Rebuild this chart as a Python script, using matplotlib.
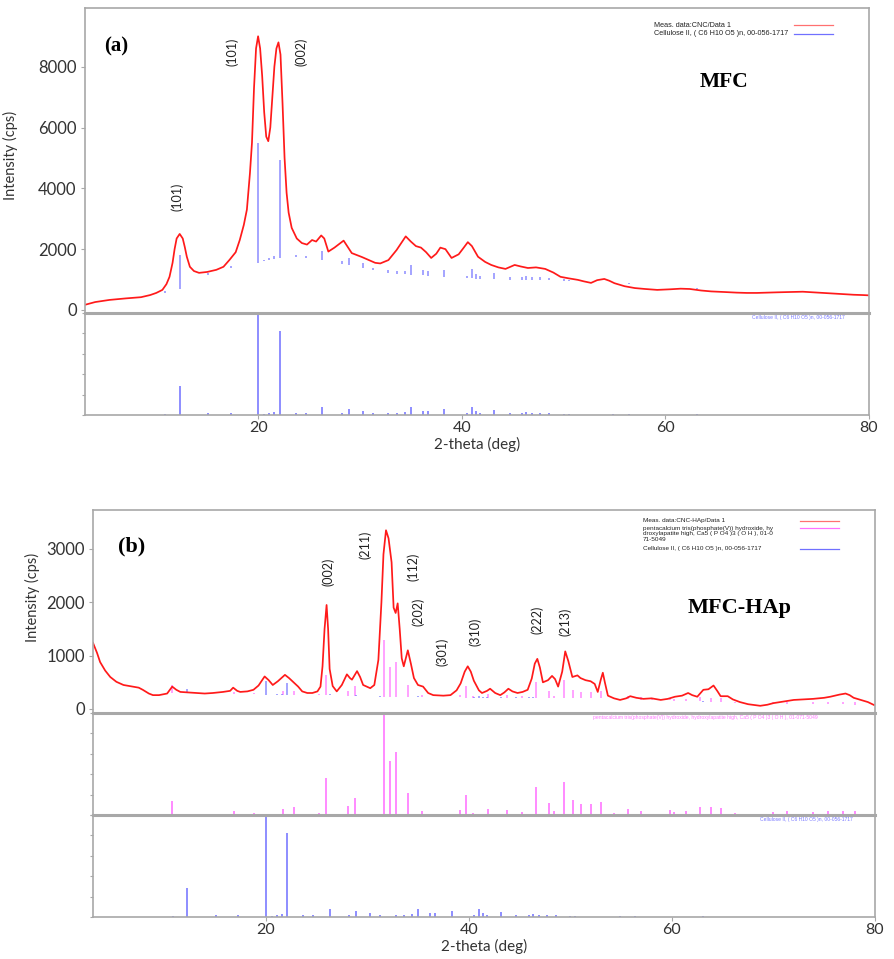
import numpy as np
import matplotlib

matplotlib.use("Agg")
import matplotlib.pyplot as plt

plt.rcParams["font.family"] = ["Lato", "DejaVu Sans"]

# ---- (a) MFC: measured pattern ----
a_x = [3.0, 4.0, 5.4, 7.0, 8.5, 9.4, 10.0, 10.6, 11.0, 11.3, 11.6, 11.8, 12.0, 12.3, 12.6,
       12.8, 13.0, 13.3, 13.7, 14.2, 15.0, 15.9, 16.6, 17.2, 17.8, 18.2, 18.6, 18.9, 19.2,
       19.4, 19.6, 19.8, 20.0, 20.2, 20.4, 20.6, 20.8, 21.0, 21.2, 21.4, 21.6, 21.8, 22.0,
       22.2, 22.4, 22.6, 22.8, 23.0, 23.3, 23.8, 24.3, 24.8, 25.3, 25.7, 26.2, 26.5, 26.9,
       27.5, 28.4, 29.2, 30.2, 31.5, 32.0, 32.8, 33.6, 34.5, 35.0, 35.5, 36.0, 36.5, 37.0,
       37.5, 37.9, 38.4, 39.0, 39.7, 40.2, 40.6, 41.0, 41.6, 42.3, 42.9, 43.6, 44.3, 45.2,
       45.8, 46.5, 47.3, 48.2, 49.0, 49.7, 50.5, 51.4, 52.0, 52.7, 53.3, 54.0, 54.5, 55.0,
       56.0, 57.0, 58.0, 59.2, 60.5, 61.5, 62.4, 63.5, 64.5, 65.8, 67.0, 68.0, 69.0, 70.0,
       71.0, 72.2, 73.5, 74.5, 75.5, 76.5, 77.5, 78.5, 79.4, 80.0]
a_y = [170, 260, 330, 380, 420, 490, 560, 660, 850, 1090, 1550, 2000, 2350, 2500, 2350,
       2070, 1750, 1420, 1280, 1220, 1250, 1320, 1420, 1650, 1900, 2300, 2800, 3300, 4500,
       5500, 7300, 8600, 9000, 8600, 7700, 6500, 5700, 5550, 6000, 7000, 8000, 8600, 8800,
       8400, 6800, 5000, 3850, 3200, 2700, 2350, 2200, 2150, 2300, 2250, 2450, 2350, 1920,
       2050, 2280, 1870, 1740, 1550, 1530, 1640, 1970, 2420, 2250, 2100, 2050, 1900, 1710,
       1850, 2050, 2000, 1710, 1830, 2050, 2230, 2100, 1750, 1580, 1480, 1400, 1350, 1480,
       1430, 1380, 1400, 1350, 1230, 1090, 1040, 990, 940, 890, 980, 1020, 960, 880,
       780, 720, 690, 660, 680, 700, 690, 640, 610, 590, 570, 560, 560, 570,
       580, 590, 600, 580, 560, 540, 520, 500, 490, 480]

# background level under the reference sticks in (a)
bg_a_x = [3, 10, 12.2, 14.7, 17, 20, 22.2, 23.5, 26.2, 27.7, 30, 32, 34, 36, 38, 40,
          42.6, 45.5, 48.2, 50.5, 55, 63, 80]
bg_a_y = [200, 500, 680, 1090, 1350, 1550, 1710, 1750, 1640, 1550, 1410, 1250, 1180,
          1150, 1090, 1050, 1020, 990, 990, 960, 880, 680, 480]

# ---- Cellulose II reference, 00-056-1717 (relative intensity) ----
cell_pos = [10.9, 12.3, 15.1, 17.3, 20.0, 20.6, 21.1, 21.6, 22.15, 23.7, 24.7, 26.3, 28.2,
            28.9, 30.3, 31.3, 32.8, 33.6, 34.4, 35.0, 36.2, 36.7, 38.3, 40.5, 41.0, 41.4,
            41.8, 43.2, 44.7, 45.9, 46.3, 46.9, 47.7, 48.6, 50.0, 50.5, 54.9, 56.4, 63.1]
cell_int = [0.01, 0.28, 0.02, 0.02, 1.0, 0.01, 0.02, 0.03, 0.82, 0.02, 0.02, 0.08, 0.02,
            0.06, 0.04, 0.02, 0.02, 0.02, 0.03, 0.08, 0.04, 0.04, 0.06, 0.02, 0.08, 0.04,
            0.02, 0.05, 0.02, 0.02, 0.03, 0.02, 0.02, 0.02, 0.01, 0.01, 0.01, 0.01, 0.01]

# ---- (b) MFC-HAp: measured pattern ----
b_x = [3.0, 3.4, 3.7, 4.2, 4.7, 5.3, 6.0, 6.9, 7.5, 7.9, 8.5, 8.9, 9.5, 10.3, 10.8, 11.2,
       11.6, 12.4, 13.2, 14.0, 14.8, 15.8, 16.5, 16.8, 17.2, 17.5, 18.2, 18.8, 19.3, 19.9,
       20.3, 20.7, 21.2, 21.9, 22.3, 22.7, 23.2, 23.6, 24.1, 24.6, 25.1, 25.4, 25.6, 25.8,
       26.0, 26.15, 26.3, 26.6, 27.0, 27.5, 28.0, 28.3, 28.5, 29.0, 29.3, 29.6, 30.3, 30.7,
       31.1, 31.4, 31.6, 31.85, 32.1, 32.4, 32.6, 32.8, 33.0, 33.2, 33.4, 33.6, 34.0, 34.3,
       34.6, 35.0, 35.5, 36.0, 36.5, 37.5, 38.2, 38.8, 39.2, 39.6, 39.9, 40.2, 40.5, 41.0,
       41.3, 41.8, 42.1, 42.6, 43.1, 43.5, 43.9, 44.3, 44.8, 45.3, 45.8, 46.2, 46.5, 46.75,
       47.0, 47.3, 47.8, 48.2, 48.5, 48.8, 49.2, 49.5, 49.8, 50.2, 50.7, 51.0, 51.5, 52.0,
       52.4, 52.7, 53.0, 53.2, 53.4, 53.7, 54.3, 54.9, 55.5, 55.9, 56.5, 57.2, 58.0, 58.9,
       59.6, 60.3, 61.0, 61.6, 62.0, 62.5, 63.1, 63.6, 64.1, 64.5, 64.8, 65.5, 66.0, 66.7,
       67.5, 68.7, 69.4, 70.0, 71.0, 72.0, 73.0, 73.9, 75.0, 75.6, 76.5, 77.1, 77.5, 77.9,
       78.6, 79.3, 79.9]
b_y = [1240, 1050, 880, 720, 600, 510, 450, 420, 400, 360, 290, 260, 260, 290, 420, 360,
       320, 310, 300, 290, 300, 320, 340, 400, 340, 320, 330, 360, 440, 610,
       540, 450, 520, 640, 580, 510, 420, 330, 300, 300, 330, 420, 800, 1500,
       1950, 1500, 750, 430, 330, 450, 650, 580, 550, 710, 600, 450, 390, 450,
       920, 2000, 2900, 3350, 3200, 2750, 1900, 1800, 1980, 1500, 950, 800, 1100, 850,
       580, 450, 420, 300, 260, 250, 260, 350, 480, 700, 800, 700, 530, 350,
       300, 340, 380, 300, 260, 310, 380, 330, 300, 320, 360, 570, 850, 940,
       780, 500, 540, 620, 560, 420, 700, 1080, 900, 600, 630, 580, 540, 520,
       470, 320, 550, 680, 500, 250, 200, 170, 200, 240, 210, 190, 200, 170,
       190, 230, 250, 300, 260, 230, 360, 370, 440, 330, 240, 240, 180, 130,
       90, 60, 80, 110, 140, 170, 180, 190, 210, 230, 270, 290, 260, 210,
       170, 130, 75]

bg_b_x = [3, 10, 20, 26, 32, 40, 47, 53, 60, 66, 70, 80]
bg_b_y = [330, 300, 270, 260, 225, 215, 210, 200, 160, 120, 100, 80]

# ---- Hydroxylapatite reference, 01-071-5049 (relative intensity) ----
hap_pos = [10.8, 16.9, 18.9, 21.7, 22.8, 25.3, 25.9, 28.1, 28.8, 31.7, 32.2, 32.8, 34.0,
           35.4, 39.1, 39.7, 40.4, 41.9, 43.8, 45.2, 46.6, 47.9, 48.4, 49.4, 50.3, 51.1,
           52.0, 53.0, 54.3, 55.7, 57.0, 58.0, 59.8, 60.2, 61.4, 62.8, 63.9, 64.8, 66.2,
           70.0, 71.3, 73.9, 75.4, 76.8, 78.0]
hap_int = [0.14, 0.04, 0.02, 0.06, 0.075, 0.02, 0.36, 0.09, 0.17, 1.0, 0.53, 0.62, 0.22,
           0.04, 0.05, 0.20, 0.02, 0.06, 0.05, 0.03, 0.27, 0.12, 0.04, 0.32, 0.15, 0.11,
           0.11, 0.13, 0.02, 0.06, 0.04, 0.01, 0.05, 0.03, 0.04, 0.08, 0.075, 0.07, 0.02,
           0.03, 0.04, 0.03, 0.04, 0.04, 0.04]

peaks_a = [(12.1, 3720, "(101)"), (17.5, 8490, "(101)"), (24.2, 8490, "(002)")]
peaks_b = [(26.15, 2570, "(002)"), (29.8, 3080, "(211)"), (34.5, 2660, "(112)"),
           (35.0, 1820, "(202)"), (37.4, 1070, "(301)"), (40.6, 1445, "(310)"),
           (46.7, 1670, "(222)"), (49.5, 1630, "(213)")]

RED = "#ff1a1a"
BLUE = "#7a7aff"
MAG = "#ff77ff"
FRAME = "#a8a8a8"
TXT = "#333333"
W, H = 894, 959


def box(left, top, right, bottom):
    return [left / W, 1 - bottom / H, (right - left) / W, (bottom - top) / H]


def frame(ax, top_lw=1.2):
    for s in ax.spines.values():
        s.set_color(FRAME)
        s.set_linewidth(1.2)
    ax.spines["top"].set_linewidth(top_lw)
    ax.set_xlim(3, 80)


def main_panel(ax, ylim, ticks):
    frame(ax)
    ax.set_ylim(*ylim)
    ax.set_yticks(ticks)
    ax.set_xticks([])
    ax.tick_params(axis="y", length=3, color=FRAME, labelsize=12, labelcolor=TXT, pad=3)
    ax.set_ylabel("Intensity (cps)", fontsize=10.5, color=TXT)


def stick_panel(ax, pos, inten, color, label, lx, last=False):
    frame(ax, top_lw=2.2)
    ax.vlines(pos, 0, inten, color=color, lw=1.2)
    ax.set_ylim(0, 1.0)
    ax.set_yticks(np.linspace(0, 1, 6))
    ax.tick_params(axis="y", length=2, color=FRAME, labelleft=False)
    ax.text(lx, 0.955, label, transform=ax.transAxes, fontsize=3.6, color=color,
            ha="left", va="center", family="Liberation Sans")
    if last:
        ax.set_xticks([20, 40, 60, 80])
        ax.tick_params(axis="x", length=3, color=FRAME, labelsize=11.5, labelcolor=TXT, pad=1)
        ax.set_xlabel("2-theta (deg)", fontsize=11, color=TXT, labelpad=0)
    else:
        ax.set_xticks([])


def legend_rows(ax, x0, rows, lines, size):
    for y, s in rows:
        ax.text(x0, y, s, transform=ax.transAxes, fontsize=size, color="#222222",
                ha="left", va="center", family="Liberation Sans")
    for y, c in lines:
        ax.plot([0.904, 0.954], [y, y], transform=ax.transAxes, color=c, lw=0.9)


fig = plt.figure(figsize=(W / 100, H / 100), dpi=100)

# ---------------- panel (a) ----------------
ax1 = fig.add_axes(box(85, 8, 869, 313))
main_panel(ax1, (-100, 9930), [0, 2000, 4000, 6000, 8000])
ax1.yaxis.set_label_coords(-0.0855, 0.518)
base = np.interp(cell_pos, bg_a_x, bg_a_y)
ax1.vlines(cell_pos, base, base + np.array(cell_int) * 3930, color=BLUE, lw=1.2, alpha=0.8)
ax1.plot(a_x, a_y, color=RED, lw=1.25)
for x, y, s in peaks_a:
    ax1.text(x, y, s, rotation=90, ha="center", va="center", fontsize=9, color="#222222")
ax1.text(6.1, 8650, "(a)", fontsize=15, fontweight="bold", family="Liberation Serif",
         ha="center", va="center")
ax1.text(65.8, 7500, "MFC", fontsize=15.5, fontweight="bold", family="Liberation Serif",
         ha="center", va="center")
legend_rows(ax1, 0.726,
            [(0.944, "Meas. data:CNC/Data 1"),
             (0.915, "Cellulose II, ( C6 H10 O5 )n, 00-056-1717")],
            [(0.944, "#ff7070"), (0.915, "#7070ff")], 5.2)

ax2 = fig.add_axes(box(85, 313, 869, 415))
stick_panel(ax2, cell_pos, cell_int, BLUE, "Cellulose II, ( C6 H10 O5 )n, 00-056-1717",
            0.851, last=True)
ax2.xaxis.set_label_coords(0.5, -0.215)

# ---------------- panel (b) ----------------
ax3 = fig.add_axes(box(93, 510, 875, 713))
main_panel(ax3, (-75, 3730), [0, 1000, 2000, 3000])
ax3.yaxis.set_label_coords(-0.068, 0.571)
base_h = np.interp(hap_pos, bg_b_x, bg_b_y)
ax3.vlines(hap_pos, base_h, base_h + np.array(hap_int) * 1070, color=MAG, lw=1.2, alpha=0.8)
base_c = np.interp(cell_pos, bg_b_x, bg_b_y)
ax3.vlines(cell_pos, base_c, base_c + np.array(cell_int) * 260, color=BLUE, lw=1.2, alpha=0.8)
ax3.plot(b_x, b_y, color=RED, lw=1.25)
for x, y, s in peaks_b:
    ax3.text(x, y, s, rotation=90, ha="center", va="center", fontsize=9, color="#222222")
ax3.text(6.8, 3040, "(b)", fontsize=16, fontweight="bold", family="Liberation Serif",
         ha="center", va="center")
ax3.text(66.7, 1895, "MFC-HAp", fontsize=16, fontweight="bold", family="Liberation Serif",
         ha="center", va="center")
legend_rows(ax3, 0.703,
            [(0.946, "Meas. data:CNC-HAp/Data 1"),
             (0.911, "pentacalcium tris(phosphate(V)) hydroxide, hy"),
             (0.882, "droxylapatite high, Ca5 ( P O4 )3 ( O H ), 01-0"),
             (0.857, "71-5049"),
             (0.808, "Cellulose II, ( C6 H10 O5 )n, 00-056-1717")],
            [(0.946, "#ff7070"), (0.911, "#ff70ff"), (0.808, "#7070ff")], 4.6)

ax4 = fig.add_axes(box(93, 713, 875, 815))
stick_panel(ax4, hap_pos, hap_int, MAG,
            "pentacalcium tris(phosphate(V)) hydroxide, hydroxylapatite high, "
            "Ca5 ( P O4 )3 ( O H ), 01-071-5049", 0.639)

ax5 = fig.add_axes(box(93, 815, 875, 917))
stick_panel(ax5, cell_pos, cell_int, BLUE, "Cellulose II, ( C6 H10 O5 )n, 00-056-1717",
            0.853, last=True)
ax5.xaxis.set_label_coords(0.5, -0.215)

fig.savefig("out.png", dpi=100)
